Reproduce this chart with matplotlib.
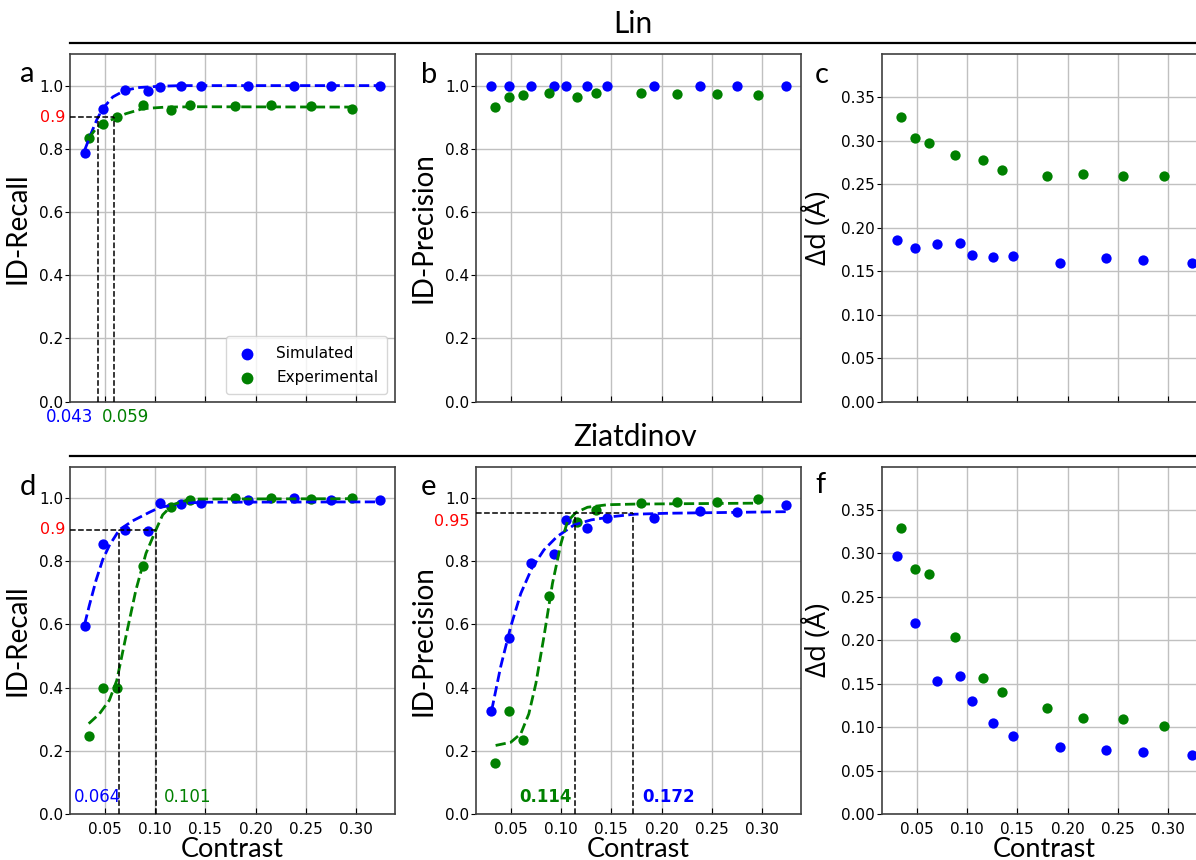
import matplotlib.pyplot as plt

W, H = 1196, 860

# contrast values (shared by all panels)
x_sim = [0.030, 0.048, 0.070, 0.093, 0.105, 0.126, 0.146, 0.192, 0.238, 0.275, 0.324]
x_exp = [0.034, 0.048, 0.062, 0.088, 0.116, 0.135, 0.179, 0.215, 0.255, 0.296]

# Lin
lin_recall_sim = [0.788, 0.927, 0.987, 0.983, 0.995, 1.0, 1.0, 1.0, 1.0, 1.0, 1.0]
lin_recall_exp = [0.833, 0.877, 0.901, 0.938, 0.923, 0.938, 0.936, 0.940, 0.935, 0.927]
lin_prec_sim = [1.0, 1.0, 1.0, 1.0, 1.0, 1.0, 1.0, 1.0, 1.0, 1.0, 1.0]
lin_prec_exp = [0.933, 0.964, 0.971, 0.977, 0.965, 0.975, 0.978, 0.974, 0.973, 0.970]
lin_dd_sim = [0.186, 0.177, 0.181, 0.182, 0.169, 0.166, 0.167, 0.160, 0.165, 0.163, 0.160]
lin_dd_exp = [0.327, 0.303, 0.298, 0.284, 0.278, 0.267, 0.260, 0.262, 0.260, 0.259]

# Ziatdinov
zia_recall_sim = [0.595, 0.854, 0.899, 0.897, 0.984, 0.982, 0.986, 0.995, 1.0, 0.995, 0.993]
zia_recall_exp = [0.247, 0.400, 0.400, 0.785, 0.971, 0.995, 1.0, 1.0, 0.997, 1.0]
zia_prec_sim = [0.327, 0.556, 0.794, 0.824, 0.932, 0.904, 0.937, 0.938, 0.958, 0.957, 0.979]
zia_prec_exp = [0.161, 0.326, 0.233, 0.691, 0.924, 0.962, 0.983, 0.989, 0.989, 0.997]
zia_dd_sim = [0.2965, 0.220, 0.1535, 0.159, 0.130, 0.105, 0.0896, 0.0773, 0.0742, 0.0719, 0.068]
zia_dd_exp = [0.329, 0.282, 0.276, 0.204, 0.156, 0.140, 0.122, 0.110, 0.109, 0.101]

# fitted curves
fit_a_sim_x = [0.030, 0.0364, 0.0423, 0.048, 0.058, 0.070, 0.0845, 0.1055, 0.126, 0.324]
fit_a_sim_y = [0.795, 0.848, 0.893, 0.927, 0.964, 0.985, 0.994, 0.998, 1.0, 1.0]
fit_a_exp_x = [0.034, 0.0414, 0.048, 0.059, 0.071, 0.088, 0.111, 0.144, 0.296]
fit_a_exp_y = [0.833, 0.864, 0.880, 0.895, 0.911, 0.927, 0.932, 0.933, 0.932]

fit_d_sim_x = [0.030, 0.0347, 0.0414, 0.048, 0.0546, 0.0646, 0.0778, 0.0944, 0.1043, 0.1275, 0.150, 0.324]
fit_d_sim_y = [0.600, 0.660, 0.740, 0.805, 0.850, 0.900, 0.928, 0.955, 0.970, 0.984, 0.987, 0.988]
fit_d_exp_x = [0.0341, 0.0447, 0.0546, 0.062, 0.071, 0.081, 0.091, 0.101, 0.1076, 0.1175, 0.131, 0.144, 0.295]
fit_d_exp_y = [0.286, 0.317, 0.360, 0.423, 0.561, 0.709, 0.825, 0.900, 0.947, 0.979, 0.993, 0.997, 0.998]

fit_e_sim_x = [0.031, 0.040, 0.050, 0.060, 0.071, 0.083, 0.096, 0.113, 0.130, 0.153, 0.173, 0.206, 0.324]
fit_e_sim_y = [0.327, 0.466, 0.593, 0.698, 0.778, 0.836, 0.878, 0.915, 0.931, 0.942, 0.949, 0.952, 0.957]
fit_e_exp_x = [0.035, 0.050, 0.060, 0.068, 0.075, 0.083, 0.0915, 0.100, 0.1064, 0.1147, 0.1263, 0.146, 0.173, 0.296]
fit_e_exp_y = [0.217, 0.227, 0.254, 0.317, 0.413, 0.561, 0.730, 0.857, 0.926, 0.954, 0.971, 0.979, 0.981, 0.984]

xticks = [0.05, 0.10, 0.15, 0.20, 0.25, 0.30]
label_font = ['Lato', 'DejaVu Sans']

fig = plt.figure(figsize=(W / 100, H / 100), dpi=100)


def make_ax(left, top, kind, bottom_row):
    w, h = 325, 347.5
    ax = fig.add_axes([left / W, 1 - (top + h) / H, w / W, h / H])
    ax.set_xlim(0.0155, 0.3385)
    ax.set_xticks(xticks)
    if kind == 'dd':
        ax.set_ylim(0, 0.4)
        ax.set_yticks([0.0, 0.05, 0.10, 0.15, 0.20, 0.25, 0.30, 0.35])
        ax.set_yticklabels(['0.00', '0.05', '0.10', '0.15', '0.20', '0.25', '0.30', '0.35'])
    else:
        ax.set_ylim(0, 1.1)
        ax.set_yticks([0.0, 0.2, 0.4, 0.6, 0.8, 1.0])
    ax.grid(True, color='#c0c0c0', lw=1.0)
    ax.set_axisbelow(True)
    ax.tick_params(axis='x', direction='in', length=4, labelsize=11, pad=6,
                   labelbottom=bottom_row)
    ax.tick_params(axis='y', direction='out', length=3.5, labelsize=11, pad=1.5)
    for s in ax.spines.values():
        s.set_color('#404040')
        s.set_linewidth(1.2)
    if bottom_row:
        ax.set_xlabel('Contrast', fontsize=19.5, family=label_font, labelpad=0)
    return ax


ax_a = make_ax(70, 54, 'r', False)
ax_b = make_ax(476, 54, 'r', False)
ax_c = make_ax(882, 54, 'dd', False)
ax_d = make_ax(70, 466.5, 'r', True)
ax_e = make_ax(476, 466.5, 'r', True)
ax_f = make_ax(882, 466.5, 'dd', True)

for ax in (ax_a, ax_d):
    ax.set_ylabel('ID-Recall', fontsize=20, family=label_font, labelpad=6)
for ax in (ax_b, ax_e):
    ax.set_ylabel('ID-Precision', fontsize=20, family=label_font, labelpad=6)
for ax in (ax_c, ax_f):
    ax.set_ylabel('\u0394d (\u00c5)', fontsize=20, family=['Open Sans', 'DejaVu Sans'], labelpad=6)

ms = 55
# a
ax_a.scatter(x_sim, lin_recall_sim, s=ms, color='blue', lw=0, label='Simulated', zorder=3)
ax_a.scatter(x_exp, lin_recall_exp, s=ms, color='green', lw=0, label='Experimental', zorder=3)
ax_a.plot(fit_a_sim_x, fit_a_sim_y, '--', color='blue', lw=2, zorder=4)
ax_a.plot(fit_a_exp_x, fit_a_exp_y, '--', color='green', lw=2, zorder=4)
ax_a.plot([0.0155, 0.059], [0.9, 0.9], '--', color='black', lw=1.1, zorder=5)
ax_a.plot([0.043, 0.043], [0, 0.9], '--', color='black', lw=1.1, zorder=5)
ax_a.plot([0.059, 0.059], [0, 0.9], '--', color='black', lw=1.1, zorder=5)
ax_a.legend(loc='lower right', fontsize=11, handlelength=1.6, handletextpad=1.1,
            borderpad=0.6, labelspacing=0.6, markerscale=1.15)
ax_a.text(-0.015, 0.9, '0.9', color='red', fontsize=11.5, ha='right', va='center',
          transform=ax_a.get_yaxis_transform())
ax_a.text(0.0385, -0.05, '0.043', color='blue', fontsize=12, ha='right', va='center', clip_on=False)
ax_a.text(0.0475, -0.05, '0.059', color='green', fontsize=12, ha='left', va='center', clip_on=False)

# b
ax_b.scatter(x_sim, lin_prec_sim, s=ms, color='blue', lw=0, zorder=3)
ax_b.scatter(x_exp, lin_prec_exp, s=ms, color='green', lw=0, zorder=3)

# c
ax_c.scatter(x_sim, lin_dd_sim, s=ms, color='blue', lw=0, zorder=3)
ax_c.scatter(x_exp, lin_dd_exp, s=ms, color='green', lw=0, zorder=3)

# d
ax_d.scatter(x_sim, zia_recall_sim, s=ms, color='blue', lw=0, zorder=3)
ax_d.scatter(x_exp, zia_recall_exp, s=ms, color='green', lw=0, zorder=3)
ax_d.plot(fit_d_sim_x, fit_d_sim_y, '--', color='blue', lw=2, zorder=4)
ax_d.plot(fit_d_exp_x, fit_d_exp_y, '--', color='green', lw=2, zorder=4)
ax_d.plot([0.0155, 0.101], [0.9, 0.9], '--', color='black', lw=1.1, zorder=5)
ax_d.plot([0.064, 0.064], [0, 0.9], '--', color='black', lw=1.1, zorder=5)
ax_d.plot([0.101, 0.101], [0, 0.9], '--', color='black', lw=1.1, zorder=5)
ax_d.text(-0.015, 0.9, '0.9', color='red', fontsize=11.5, ha='right', va='center',
          transform=ax_d.get_yaxis_transform())
ax_d.text(0.0665, 0.055, '0.064', color='blue', fontsize=12, ha='right', va='center')
ax_d.text(0.109, 0.055, '0.101', color='green', fontsize=12, ha='left', va='center')

# e
ax_e.scatter(x_sim, zia_prec_sim, s=ms, color='blue', lw=0, zorder=3)
ax_e.scatter(x_exp, zia_prec_exp, s=ms, color='green', lw=0, zorder=3)
ax_e.plot(fit_e_sim_x, fit_e_sim_y, '--', color='blue', lw=2, zorder=4)
ax_e.plot(fit_e_exp_x, fit_e_exp_y, '--', color='green', lw=2, zorder=4)
ax_e.plot([0.0155, 0.172], [0.954, 0.954], '--', color='black', lw=1.1, zorder=5)
ax_e.plot([0.114, 0.114], [0, 0.954], '--', color='black', lw=1.1, zorder=5)
ax_e.plot([0.172, 0.172], [0, 0.954], '--', color='black', lw=1.1, zorder=5)
ax_e.text(-0.02, 0.926, '0.95', color='red', fontsize=11.5, ha='right', va='center',
          transform=ax_e.get_yaxis_transform())
ax_e.text(0.1105, 0.055, '0.114', color='green', fontsize=12, fontweight='bold', ha='right', va='center')
ax_e.text(0.181, 0.055, '0.172', color='blue', fontsize=12, fontweight='bold', ha='left', va='center')

# f
ax_f.scatter(x_sim, zia_dd_sim, s=ms, color='blue', lw=0, zorder=3)
ax_f.scatter(x_exp, zia_dd_exp, s=ms, color='green', lw=0, zorder=3)

# panel letters
for letter, px, py in [('a', 20, 82), ('b', 421, 83), ('c', 815, 83),
                       ('d', 20, 495), ('e', 421, 495), ('f', 815, 493)]:
    fig.text(px / W, 1 - py / H, letter, fontsize=21, family=label_font, ha='left', va='baseline')

# group titles with rules
fig.text(633 / W, 1 - 24 / H, 'Lin', fontsize=21.5, family=label_font, ha='center', va='center')
fig.text(635 / W, 1 - 437 / H, 'Ziatdinov', fontsize=21.5, family=label_font, ha='center', va='center')
fig.add_artist(plt.Line2D([70 / W, 1.0], [1 - 43 / H, 1 - 43 / H], color='black', lw=1.6))
fig.add_artist(plt.Line2D([70 / W, 1.0], [1 - 456 / H, 1 - 456 / H], color='black', lw=1.6))

fig.savefig('out.png', dpi=100)
